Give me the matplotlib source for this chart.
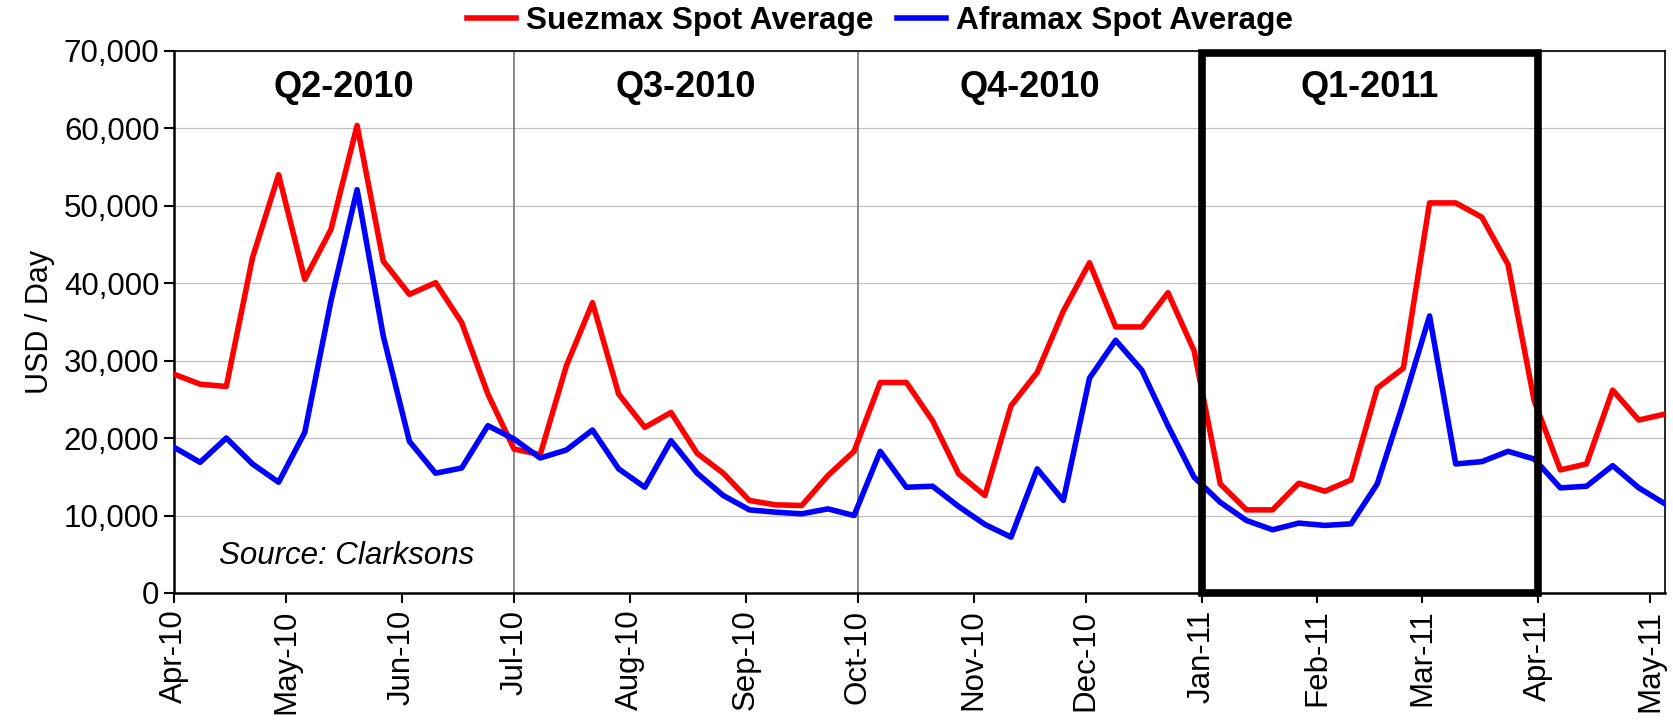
import matplotlib
matplotlib.use("Agg")
import matplotlib.pyplot as plt
import matplotlib.dates as mdates
import matplotlib.ticker as mticker
from matplotlib.patches import Rectangle
import pandas as pd

plt.rcParams["font.family"] = ["Liberation Sans", "DejaVu Sans"]

# Dados semanais (USD/dia)
semanas = pd.date_range("2010-04-01", periods=58, freq="7D")
suezmax = [
    28250, 26960, 26660, 43280, 54010, 40490, 46930, 60370, 42850, 38560,
    40060, 34910, 25680, 18590, 17860, 29330, 37480, 25680, 21380, 23310,
    18030, 15460, 11940, 11380, 11290, 15160, 18290, 27180, 27180, 22240,
    15370, 12580, 24170, 28470, 36410, 42640, 34350, 34350, 38770, 31260,
    14080, 10730, 10730, 14170, 13140, 14600, 26450, 29030, 50370, 50370,
    48520, 42420, 24820, 15890, 16660, 26190, 22330, 23100,
]
aframax = [
    18810, 16870, 20010, 16660, 14300, 20740, 37700, 52080, 33190, 19580,
    15460, 16140, 21600, 19880, 17430, 18460, 21040, 16020, 13650, 19670,
    15460, 12580, 10730, 10430, 10220, 10860, 10000, 18290, 13650, 13780,
    11160, 8850, 7210, 16020, 11940, 27740, 32630, 28770, 21600, 14940,
    11700, 9360, 8160, 9020, 8720, 8930, 14080, 24600, 35770, 16660,
    16960, 18290, 17300, 13570, 13780, 16440, 13570, 11510,
]
trimestres = ["Q2-2010", "Q3-2010", "Q4-2010", "Q1-2011"]
inicio_trimestres = pd.to_datetime(
    ["2010-04-01", "2010-07-01", "2010-10-01", "2011-01-01", "2011-04-01"]
)

fig = plt.figure(figsize=(16.73, 7.24), dpi=100)
ax = fig.add_axes([0.104, 0.181, 0.8912, 0.7487])

ax.plot(semanas, suezmax, color="#FF0000", lw=4.0, label="Suezmax Spot Average", zorder=3)
ax.plot(semanas, aframax, color="#0000FF", lw=4.0, label="Aframax Spot Average", zorder=3)

ax.set_xlim(semanas[0], semanas[-1])
ax.set_ylim(0, 70000)
ax.yaxis.set_major_locator(mticker.MultipleLocator(10000))
ax.yaxis.set_major_formatter(mticker.StrMethodFormatter("{x:,.0f}"))
ax.xaxis.set_major_locator(mdates.MonthLocator())
ax.xaxis.set_major_formatter(mdates.DateFormatter("%b-%y"))
ax.grid(axis="y", color="#C0C0C0", lw=0.9)
ax.set_axisbelow(True)

ax.tick_params(axis="both", labelsize=22.5, length=7, width=1.5, direction="out")
ax.tick_params(axis="x", pad=5)
for lbl in ax.get_xticklabels():
    lbl.set_rotation(90)
ax.set_ylabel("USD / Day", fontsize=22, labelpad=6)

for lado in ["left", "bottom"]:
    ax.spines[lado].set_linewidth(1.8)
for lado in ["top", "right"]:
    ax.spines[lado].set_linewidth(1.2)

# Separadores de trimestre
for d in inicio_trimestres[1:3]:
    ax.axvline(d, color="#808080", lw=1.3, zorder=2)

# Rótulos dos trimestres
for nome, ini, fim in zip(trimestres, inicio_trimestres[:-1], inicio_trimestres[1:]):
    meio = ini + (fim - ini) / 2
    ax.text(meio, 65300, nome, ha="center", va="center", fontsize=26, fontweight="bold")

# Destaque do Q1-2011
x0 = mdates.date2num(inicio_trimestres[3])
x1 = mdates.date2num(inicio_trimestres[4])
ax.add_patch(Rectangle((x0, 0), x1 - x0, 69700, fill=False, ec="black", lw=5.5,
                       zorder=5, clip_on=False))

ax.text(0.030, 0.069, "Source: Clarksons", transform=ax.transAxes, fontsize=22.5,
        style="italic", ha="left", va="center")

fig.legend(loc="center", bbox_to_anchor=(0.526, 0.971), ncol=2, frameon=False,
           prop={"weight": "bold", "size": 22.8}, handlelength=1.55,
           handletextpad=0.3, columnspacing=0.75)

fig.savefig("out.png", dpi=100)
